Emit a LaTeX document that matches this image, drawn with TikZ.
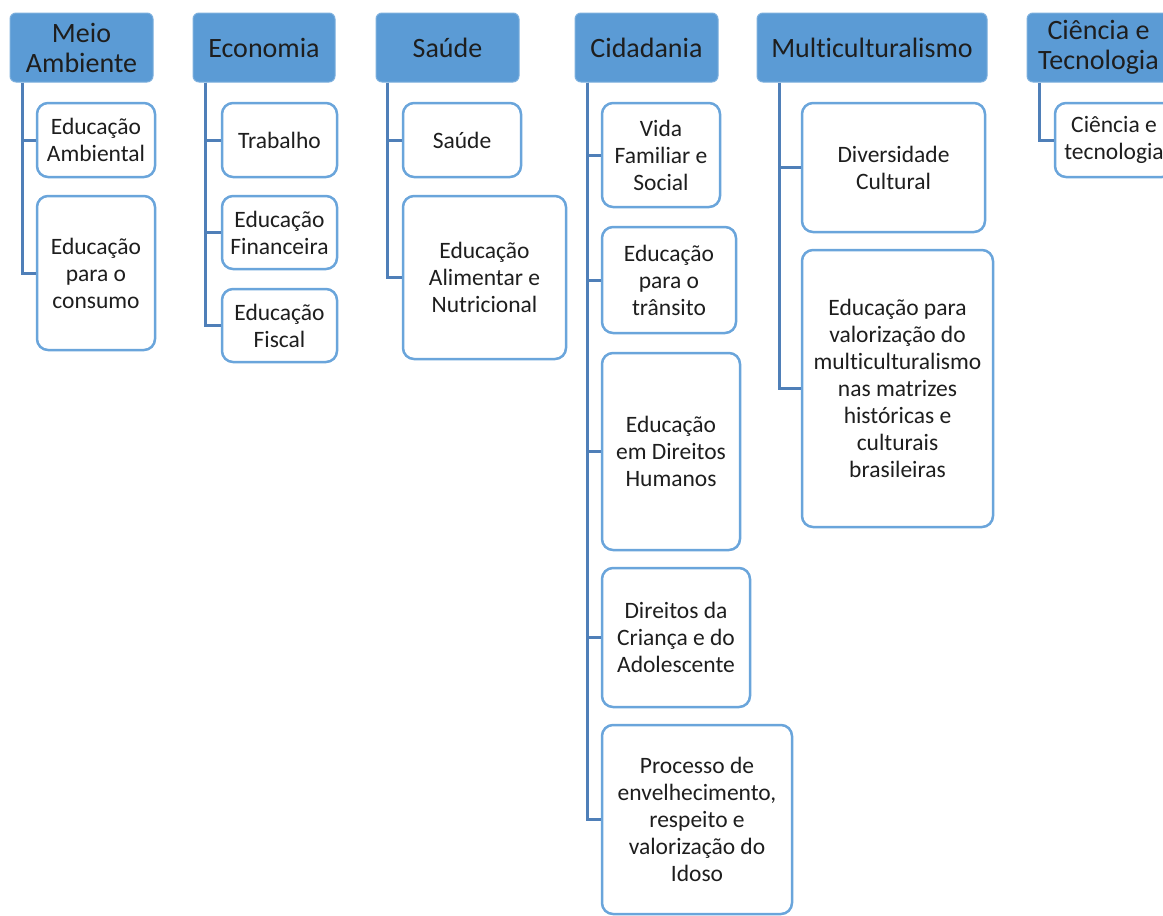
\documentclass[tikz,border=0pt]{standalone}
\usepackage{fontspec}
\setmainfont{Carlito}[Ligatures=NoCommon]
\usepackage{xcolor}
\usepackage{tikz}
\usetikzlibrary{positioning}

\definecolor{temaazul}{HTML}{5B9BD5}
\definecolor{bordaazul}{HTML}{6AA5DB}
\definecolor{ramoazul}{HTML}{4F7FB8}
\definecolor{texto}{HTML}{1E1E1E}

\begin{document}
\begin{tikzpicture}[
    x=1pt, y=-1pt,
    tema/.style={rectangle, rounded corners=6, fill=temaazul, draw=temaazul!80!white, line width=1,
                 align=center, text=texto, inner sep=2,
                 font=\fontsize{28}{30}\selectfont},          % Style for the theme headers
    filho/.style={rectangle, rounded corners=11, draw=bordaazul, line width=2.5, fill=white,
                  align=center, text=texto, inner sep=2,
                  font=\fontsize{23.5}{27}\selectfont},        % Style for the sub-theme boxes
    ramo/.style={draw=ramoazul, line width=3}                  % Style for the tree branches
    ]

    \useasboundingbox (0,0) rectangle (1163,916);
    \clip (0,0) rectangle (1163,916);

    % Theme headers
    \node[tema, minimum width=143, minimum height=69] (MA)  at (81.5,47.5)  {Meio\\Ambiente};
    \node[tema, minimum width=142, minimum height=69] (ECO) at (264,47.5)   {Economia};
    \node[tema, minimum width=143, minimum height=69] (SAU) at (447.5,47.5) {Saúde};
    \node[tema, minimum width=143, minimum height=69] (CID) at (646.5,47.5) {Cidadania};
    \node[tema, minimum width=230, minimum height=69] (MUL) at (872,47.5)   {Multiculturalismo};
    \node[tema, minimum width=143, minimum height=69] (CT)  at (1098.5,47.5) {Ciência e\\Tecnologia};

    % Meio Ambiente
    \node[filho, minimum width=118, minimum height=74]  (ea) at (96,140)    {Educação\\Ambiental};
    \node[filho, minimum width=118, minimum height=154] (ec) at (96,273)    {Educação\\para o\\consumo};

    % Economia
    \node[filho, minimum width=115, minimum height=74] (tr)  at (279.5,140)   {Trabalho};
    \node[filho, minimum width=115, minimum height=73] (ef)  at (279.5,232.5) {Educação\\Financeira};
    \node[filho, minimum width=115, minimum height=73] (efi) at (279.5,325.5) {Educação\\Fiscal};

    % Saude
    \node[filho, minimum width=118, minimum height=74]  (sa)  at (462,140)   {Saúde};
    \node[filho, minimum width=163, minimum height=163] (eal) at (484.5,277.5) {Educação\\Alimentar e\\Nutricional};

    % Cidadania
    \node[filho, minimum width=118, minimum height=104] (vf)  at (661,155)   {Vida\\Familiar e\\Social};
    \node[filho, minimum width=134, minimum height=106] (et)  at (669,280)   {Educação\\para o\\trânsito};
    \node[filho, minimum width=138, minimum height=197] (edh) at (671,451.5) {Educação\\em Direitos\\Humanos};
    \node[filho, minimum width=148, minimum height=139] (dca) at (676,637.5) {Direitos da\\Criança e do\\Adolescente};
    \node[filho, minimum width=190, minimum height=189] (pe)  at (697,819.5) {Processo de\\envelhecimento,\\respeito e\\valorização do\\Idoso};

    % Multiculturalismo
    \node[filho, minimum width=183, minimum height=129] (dc) at (893.5,167.5) {Diversidade\\Cultural};
    \node[filho, minimum width=191, minimum height=277] (ev) at (897.5,388.5) {Educação para\\valorização do\\multiculturalismo\\nas matrizes\\históricas e\\culturais\\brasileiras};

    % Ciencia e Tecnologia
    \node[filho, minimum width=118, minimum height=74] (ct) at (1114,140) {Ciência e\\tecnologia};

    % Branches
    \foreach \pai/\dx/\filhos in {MA/13/{ea,ec}, ECO/13/{tr,ef,efi}, SAU/12/{sa,eal},
                                  CID/13/{vf,et,edh,dca,pe}, MUL/23/{dc,ev}, CT/13/{ct}}
      \foreach \f in \filhos
        \draw[ramo] ([xshift=\dx]\pai.south west) |- (\f.west);

\end{tikzpicture}
\end{document}
